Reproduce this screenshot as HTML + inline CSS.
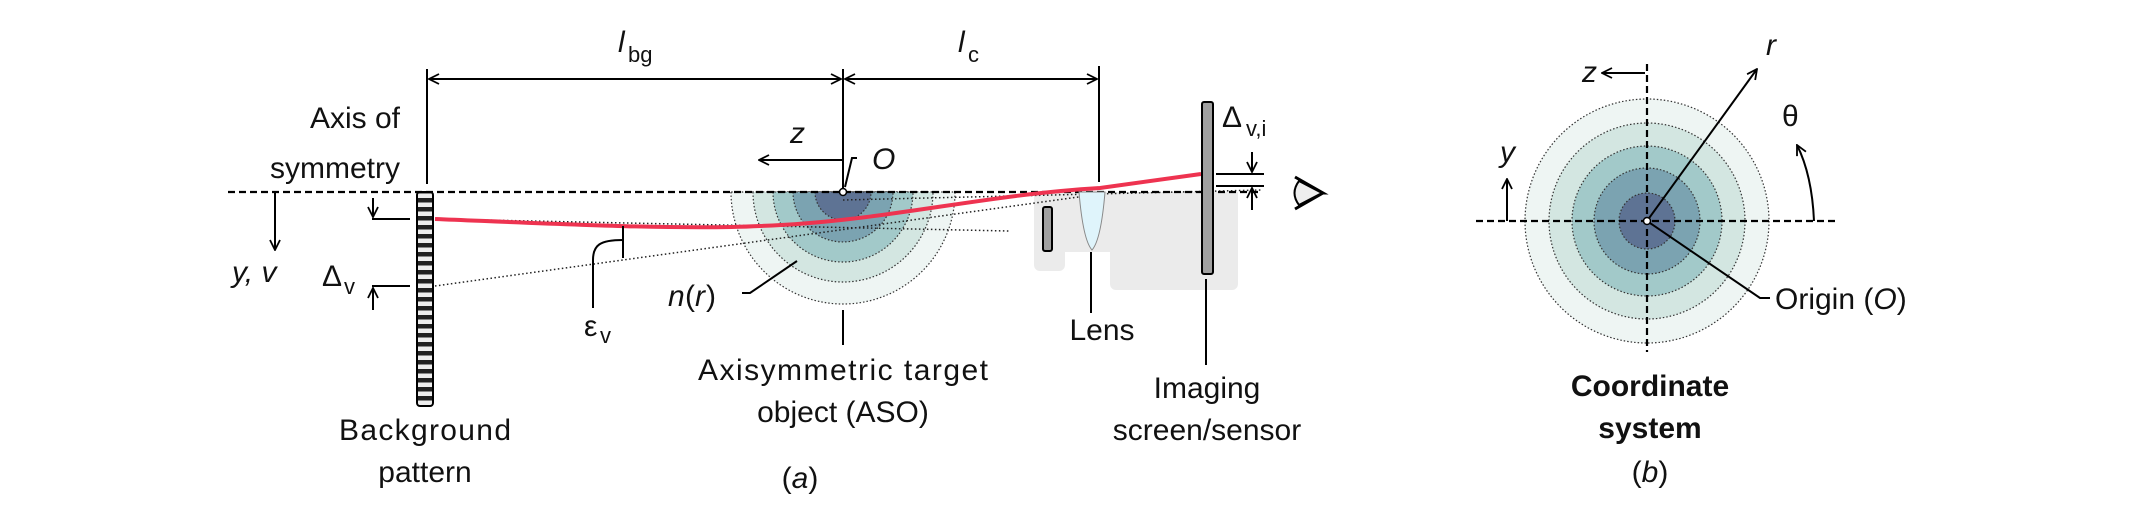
<!DOCTYPE html>
<html><head><meta charset="utf-8"><style>
html,body{margin:0;padding:0;background:#fff}
svg{display:block}
text{font-family:"Liberation Sans",sans-serif;font-size:30px;fill:#111}
.i{font-style:italic}
</style></head><body>
<svg width="2156" height="528" viewBox="0 0 2156 528" xmlns="http://www.w3.org/2000/svg">
<defs>
<marker id="a" viewBox="0 0 12 12" refX="11" refY="6" markerWidth="12" markerHeight="12" markerUnits="userSpaceOnUse" orient="auto"><path d="M1,1 L11,6 L1,11" fill="none" stroke="#000" stroke-width="1.8"/></marker>
<pattern id="stripes" width="12" height="9" patternUnits="userSpaceOnUse"><rect width="12" height="9" fill="#eee"/><rect y="0" width="12" height="4.5" fill="#222"/></pattern>
</defs>

<path d="M1034,192 H1238 V284 a6,6 0 0 1 -6,6 H1116 a6,6 0 0 1 -6,-6 V252 H1065 V265 a6,6 0 0 1 -6,6 H1040 a6,6 0 0 1 -6,-6 Z" fill="#ebebeb"/>

<g stroke="#333" stroke-width="1.2" stroke-dasharray="1.5,2">
<path d="M731,192 A112,112 0 0 0 955,192 Z" fill="#eef5f3"/>
<path d="M753,192 A90,90 0 0 0 933,192 Z" fill="#d3e6e1"/>
<path d="M773,192 A70,70 0 0 0 913,192 Z" fill="#a2c9c9"/>
<path d="M793,192 A50,50 0 0 0 893,192 Z" fill="#7ba3b1"/>
<path d="M815,192 A28,28 0 0 0 871,192 Z" fill="#5e7394"/>
</g>

<g stroke="#222" stroke-width="1.5" stroke-dasharray="1.5,2.5" fill="none">
<line x1="435" y1="219" x2="1009" y2="231"/>
<line x1="435" y1="286" x2="1100" y2="194"/>
<line x1="843" y1="200" x2="1262" y2="190"/>
</g>

<line x1="228" y1="192" x2="1262" y2="192" stroke="#000" stroke-width="2.2" stroke-dasharray="7,4"/>

<path d="M1079,192 Q1083,240 1092,250 Q1101,240 1105,192 Z" fill="#dff4fb" stroke="#888" stroke-width="1"/>
<rect x="1043" y="207" width="9" height="44" rx="2" fill="#a0a0a0" stroke="#000" stroke-width="2"/>

<path d="M435,219 C560,224 680,230 760,226 C880,222 980,195 1100,188 L1201,174" fill="none" stroke="#ee3350" stroke-width="4"/>

<rect x="417" y="192" width="16" height="214" rx="3" fill="url(#stripes)" stroke="#000" stroke-width="2"/>

<rect x="1202" y="102" width="11" height="172" rx="2" fill="#a0a0a0" stroke="#000" stroke-width="2"/>

<g stroke="#000" stroke-width="2" fill="none">
<line x1="427" y1="69" x2="427" y2="184"/>
<line x1="843" y1="69" x2="843" y2="190"/>
<line x1="1099" y1="66" x2="1099" y2="182"/>
<line x1="635" y1="79" x2="429" y2="79" marker-end="url(#a)"/>
<line x1="635" y1="79" x2="841" y2="79" marker-end="url(#a)"/>
<line x1="970" y1="79" x2="845" y2="79" marker-end="url(#a)"/>
<line x1="970" y1="79" x2="1097" y2="79" marker-end="url(#a)"/>
<line x1="843" y1="160" x2="759" y2="160" marker-end="url(#a)"/>
<path d="M845,187 L852,158 H857"/>
<line x1="275" y1="192" x2="275" y2="250" marker-end="url(#a)"/>
<line x1="372" y1="219" x2="410" y2="219"/>
<line x1="372" y1="286" x2="410" y2="286"/>
<line x1="373" y1="198" x2="373" y2="217" marker-end="url(#a)"/>
<line x1="373" y1="310" x2="373" y2="288" marker-end="url(#a)"/>
<line x1="623" y1="226" x2="623" y2="258"/>
<path d="M623,240 C600,240 593,245 593,260 V308"/>
<path d="M742,293 H750 L797,261"/>
<line x1="843" y1="310" x2="843" y2="345"/>
<line x1="1091" y1="252" x2="1091" y2="313"/>
<line x1="1206" y1="279" x2="1206" y2="365"/>
<line x1="1216" y1="174" x2="1264" y2="174"/>
<line x1="1216" y1="186" x2="1264" y2="186"/>
<line x1="1252" y1="152" x2="1252" y2="172" marker-end="url(#a)"/>
<line x1="1252" y1="210" x2="1252" y2="188" marker-end="url(#a)"/>
</g>
<circle cx="843" cy="192" r="3.5" fill="#fff" stroke="#000" stroke-width="1.5"/>

<path d="M1302,193 L1323,193 L1295,177 M1323,193 L1295,209" fill="none" stroke="#000" stroke-width="3"/>
<path d="M1299,181 Q1290,193 1299,205 L1322,193 Z" fill="#eee" stroke="#000" stroke-width="2"/>

<text x="400" y="128" text-anchor="end">Axis of</text>
<text x="400" y="178" text-anchor="end">symmetry</text>
<text x="618" y="52" class="i">l</text><text x="628" y="62" style="font-size:22px">bg</text>
<text x="958" y="52" class="i">l</text><text x="968" y="62" style="font-size:22px">c</text>
<text x="790" y="143" class="i">z</text>
<text x="872" y="169" class="i">O</text>
<text x="232" y="282" class="i">y, v</text>
<text x="322" y="286">Δ</text><text x="344" y="294" style="font-size:22px">v</text>
<text x="584" y="336">ε</text><text x="600" y="343" style="font-size:22px">v</text>
<text x="668" y="306" class="i">n</text><text x="685" y="306">(</text><text x="695" y="306" class="i">r</text><text x="706" y="306">)</text>
<text x="843" y="380" text-anchor="middle" textLength="290">Axisymmetric target</text>
<text x="843" y="422" text-anchor="middle">object (ASO)</text>
<text x="425" y="440" text-anchor="middle" textLength="172">Background</text>
<text x="425" y="482" text-anchor="middle">pattern</text>
<text x="800" y="488" text-anchor="middle">(<tspan class="i">a</tspan>)</text>
<text x="1102" y="340" text-anchor="middle">Lens</text>
<text x="1207" y="398" text-anchor="middle">Imaging</text>
<text x="1207" y="440" text-anchor="middle">screen/sensor</text>
<text x="1222" y="127">Δ</text><text x="1246" y="136" style="font-size:22px">v,i</text>

<g stroke="#333" stroke-width="1.2" stroke-dasharray="1.5,2">
<circle cx="1647" cy="221" r="122" fill="#eef5f3"/>
<circle cx="1647" cy="221" r="98" fill="#d3e6e1"/>
<circle cx="1647" cy="221" r="75" fill="#a2c9c9"/>
<circle cx="1647" cy="221" r="53" fill="#7ba3b1"/>
<circle cx="1647" cy="221" r="28" fill="#5e7394"/>
</g>
<g stroke="#000" stroke-width="2.2" stroke-dasharray="7,4">
<line x1="1476" y1="221" x2="1837" y2="221"/>
<line x1="1647" y1="64" x2="1647" y2="352"/>
</g>
<g stroke="#000" stroke-width="2" fill="none">
<path d="M1645,73 H1602" marker-end="url(#a)"/>
<line x1="1647" y1="221" x2="1757" y2="69" marker-end="url(#a)"/>
<line x1="1507" y1="221" x2="1507" y2="179" marker-end="url(#a)"/>
<path d="M1814,221 Q1812,175 1797,145" marker-end="url(#a)"/>
<path d="M1647,221 L1760,298 H1770"/>
</g>
<circle cx="1647" cy="221" r="3.5" fill="#fff" stroke="#000" stroke-width="1.5"/>
<text x="1582" y="82" class="i">z</text>
<text x="1766" y="55" class="i">r</text>
<text x="1782" y="126">θ</text>
<text x="1500" y="162" class="i">y</text>
<text x="1775" y="309">Origin (<tspan class="i">O</tspan>)</text>
<text x="1650" y="396" text-anchor="middle" style="font-weight:bold">Coordinate</text>
<text x="1650" y="438" text-anchor="middle" style="font-weight:bold">system</text>
<text x="1650" y="482" text-anchor="middle">(<tspan class="i">b</tspan>)</text>
</svg>
</body></html>
